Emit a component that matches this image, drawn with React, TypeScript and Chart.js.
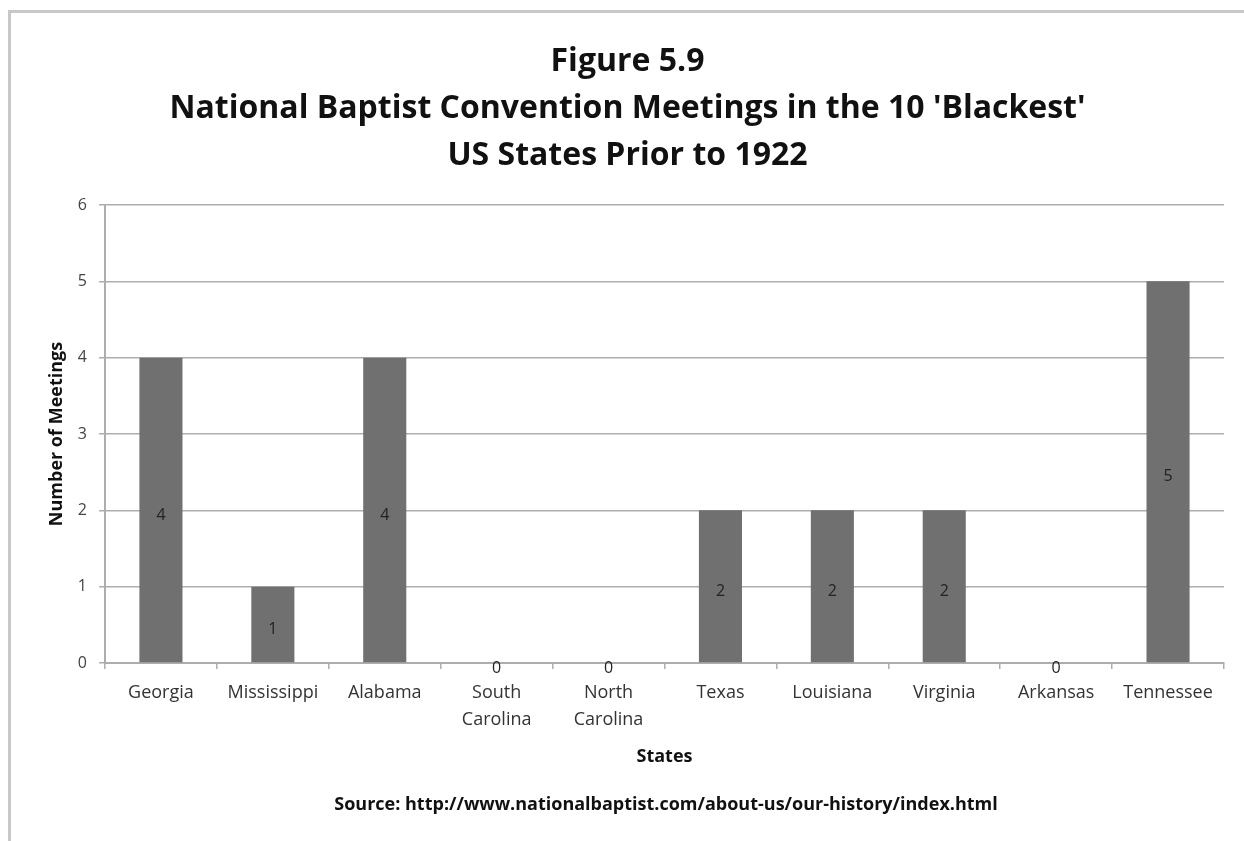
import React, { useEffect, useRef } from "react";
import { Chart, registerables } from "chart.js";

Chart.register(...registerables);

const categories: string[][] = [
  ["Georgia"],
  ["Mississippi"],
  ["Alabama"],
  ["South", "Carolina"],
  ["North", "Carolina"],
  ["Texas"],
  ["Louisiana"],
  ["Virginia"],
  ["Arkansas"],
  ["Tennessee"],
];
const meetings: number[] = [4, 1, 4, 0, 0, 2, 2, 2, 0, 5];
const yMin = 0;
const yMax = 6;
const yStep = 1;
const titleLines: string[] = [
  "Figure 5.9",
  "National Baptist Convention Meetings in the 10 'Blackest'",
  "US States Prior to 1922",
];
const yAxisTitle = "Number of Meetings";
const xAxisTitle = "States";
const sourceNote =
  "Source: http://www.nationalbaptist.com/about-us/our-history/index.html";

const FONT = "'Open Sans', Lato, sans-serif";
const W = 1233;
const H = 828;

const textPlugin = {
  id: "textPlugin",
  afterDraw(chart: any) {
    const ctx = chart.ctx as CanvasRenderingContext2D;
    const area = chart.chartArea;
    ctx.save();
    // data labels
    const meta = chart.getDatasetMeta(0);
    ctx.fillStyle = "#222222";
    ctx.font = `16px ${FONT}`;
    ctx.textAlign = "center";
    ctx.textBaseline = "middle";
    meta.data.forEach((bar: any, i: number) => {
      const y = (bar.y + bar.base) / 2 + 5;
      ctx.fillText(String(meetings[i]), bar.x, y);
    });
    // titles
    ctx.fillStyle = "#111111";
    ctx.font = `bold 32px ${FONT}`;
    const ys = [49, 96, 143];
    titleLines.forEach((t, i) => ctx.fillText(t, W / 2, ys[i]));
    // x-axis title
    ctx.font = `bold 18px ${FONT}`;
    ctx.fillStyle = "#111111";
    ctx.fillText(xAxisTitle, (area.left + area.right) / 2, 744);
    // source
    ctx.font = `bold 18px ${FONT}`;
    ctx.fillText(sourceNote, 655, 792);
    // y-axis title
    ctx.save();
    ctx.translate(46, (area.top + area.bottom) / 2);
    ctx.rotate(-Math.PI / 2);
    ctx.font = `bold 18px ${FONT}`;
    ctx.fillText(yAxisTitle, 0, 0);
    ctx.restore();
    ctx.restore();
  },
};

function BarChart() {
  const ref = useRef<HTMLCanvasElement | null>(null);
  useEffect(() => {
    let chart: Chart | null = null;
    let cancelled = false;
    const make = () => {
      if (cancelled || !ref.current) return;
      const gridColor = "#adadad";
      chart = new Chart(ref.current, {
        type: "bar",
        data: {
          labels: categories,
          datasets: [
            {
              data: meetings,
              backgroundColor: "#707070",
              borderWidth: 0,
              barPercentage: 0.385,
              categoryPercentage: 1,
            },
          ],
        },
        options: {
          responsive: false,
          animation: false,
          devicePixelRatio: 1,
          layout: { padding: { top: 192, right: 20, left: 0, bottom: 0 } },
          plugins: {
            legend: { display: false },
            title: { display: false },
            tooltip: { enabled: false },
          },
          scales: {
            x: {
              afterFit: (s: any) => {
                s.height = 178;
              },
              grid: {
                display: true,
                drawOnChartArea: false,
                drawTicks: true,
                tickLength: 6,
                color: gridColor,
                lineWidth: 1.5,
              },
              border: { display: true, color: gridColor, width: 2 },
              ticks: {
                color: "#333333",
                font: { family: FONT, size: 18, lineHeight: 27 / 18 },
                padding: 10,
                maxRotation: 0,
                autoSkip: false,
              },
            },
            y: {
              min: yMin,
              max: yMax,
              afterFit: (s: any) => {
                s.width = 94;
              },
              grid: {
                color: gridColor,
                lineWidth: 1.5,
                tickLength: 6,
                drawTicks: true,
              },
              border: { display: true, color: gridColor, width: 2 },
              ticks: {
                stepSize: yStep,
                color: "#444444",
                font: { family: FONT, size: 16 },
                padding: 12,
              },
            },
          },
        },
        plugins: [textPlugin],
      });
    };
    const fonts = (document as any).fonts;
    if (fonts && fonts.load) {
      Promise.all([
        fonts.load(`bold 28px 'Open Sans'`),
        fonts.load(`16px 'Open Sans'`),
      ])
        .catch(() => null)
        .then(make);
    } else {
      make();
    }
    return () => {
      cancelled = true;
      if (chart) chart.destroy();
    };
  }, []);
  return (
    <canvas
      ref={ref}
      width={W}
      height={H}
      style={{ position: "absolute", left: 11, top: 13, width: W, height: H }}
    />
  );
}

export default function App() {
  return (
    <div
      style={{
        position: "absolute",
        left: 0,
        top: 0,
        width: 1244,
        height: 841,
        background: "#ffffff",
        overflow: "hidden",
      }}
    >
      <div
        style={{
          position: "absolute",
          left: 8,
          top: 10,
          width: 1244,
          height: 841,
          borderLeft: "3px solid #c8c8c8",
          borderTop: "3px solid #c8c8c8",
        }}
      />
      <BarChart />
    </div>
  );
}
